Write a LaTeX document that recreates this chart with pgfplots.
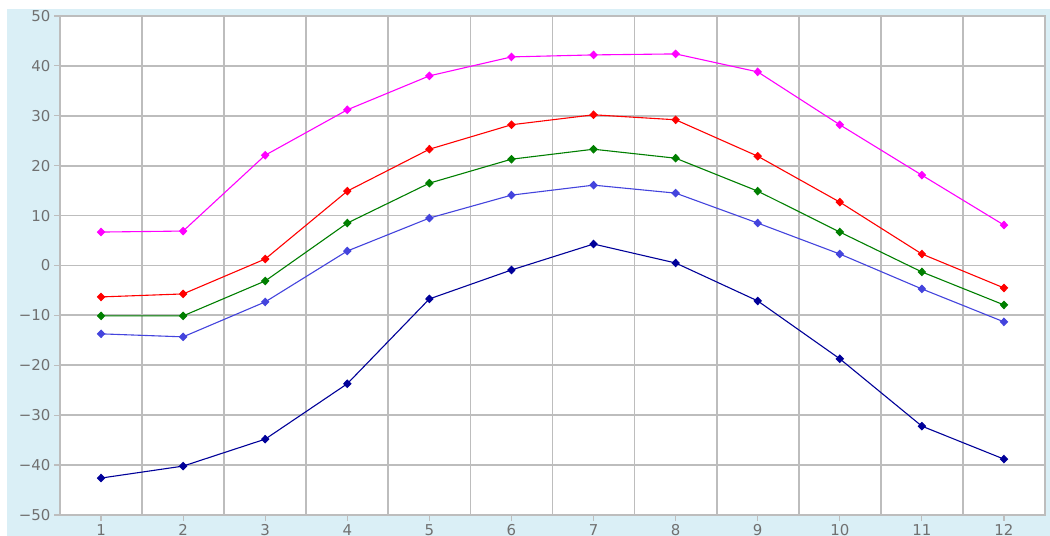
\documentclass[border=0pt]{standalone}
\usepackage{fontspec}
\setmainfont{DejaVu Sans}
\usepackage{pgfplots}
\pgfplotsset{compat=1.18}
\definecolor{bgblue}{HTML}{DAEFF6}
\definecolor{gridgray}{HTML}{BDBDBD}
\definecolor{labgray}{HTML}{707070}
\definecolor{smag}{HTML}{FF00FF}
\definecolor{sred}{HTML}{FF0000}
\definecolor{sgreen}{HTML}{007F00}
\definecolor{sblue}{HTML}{4444DD}
\definecolor{sdark}{HTML}{000099}
\begin{document}
\begin{tikzpicture}[x=1bp,y=1bp]
\useasboundingbox (0,0) rectangle (1050,536);
\fill[bgblue] (7,0) rectangle (1050,527);
\begin{axis}[
  at={(60bp,21bp)}, anchor=south west,
  scale only axis, width=985bp, height=499bp,
  xmin=0.5, xmax=12.5, ymin=-50, ymax=50,
  xtick={1,...,12}, minor xtick={1.5,2.5,...,11.5},
  ytick={-50,-40,...,50},
  yticklabels={−50,−40,−30,−20,−10,0,10,20,30,40,50},
  xminorgrids, ymajorgrids,
  grid style={gridgray, line width=1.8bp},
  minor grid style={gridgray, line width=1.8bp},
  axis line style={gridgray, line width=1.8bp},
  axis background/.style={fill=white},
  tick align=outside,
  major tick length=6bp, minor tick length=0bp,
  every tick/.style={gridgray, line width=1.2bp},
  xtick pos=bottom, ytick pos=left,
  /pgf/number format/assume math mode=true,
  ticklabel style={font=\fontsize{15}{15}\selectfont, text=labgray},
  every axis plot/.append style={line width=1.1bp, mark=diamond*, mark size=3.6bp},
]
\addplot[smag, mark options={fill=smag, xscale=1.3}] coordinates {(1,6.7)(2,6.9)(3,22.1)(4,31.2)(5,38.0)(6,41.8)(7,42.2)(8,42.4)(9,38.8)(10,28.2)(11,18.1)(12,8.1)};
\addplot[sred, mark options={fill=sred, xscale=1.3}] coordinates {(1,-6.3)(2,-5.7)(3,1.3)(4,14.9)(5,23.3)(6,28.2)(7,30.2)(8,29.2)(9,21.9)(10,12.7)(11,2.3)(12,-4.5)};
\addplot[sgreen, mark options={fill=sgreen, xscale=1.3}] coordinates {(1,-10.1)(2,-10.1)(3,-3.1)(4,8.5)(5,16.5)(6,21.3)(7,23.3)(8,21.5)(9,14.9)(10,6.7)(11,-1.3)(12,-7.9)};
\addplot[sblue, mark options={fill=sblue, xscale=1.3}] coordinates {(1,-13.7)(2,-14.3)(3,-7.3)(4,2.9)(5,9.5)(6,14.1)(7,16.1)(8,14.5)(9,8.5)(10,2.3)(11,-4.7)(12,-11.3)};
\addplot[sdark, mark options={fill=sdark, xscale=1.3}] coordinates {(1,-42.6)(2,-40.2)(3,-34.8)(4,-23.7)(5,-6.7)(6,-0.9)(7,4.3)(8,0.5)(9,-7.1)(10,-18.7)(11,-32.2)(12,-38.8)};
\end{axis}
\end{tikzpicture}
\end{document}
